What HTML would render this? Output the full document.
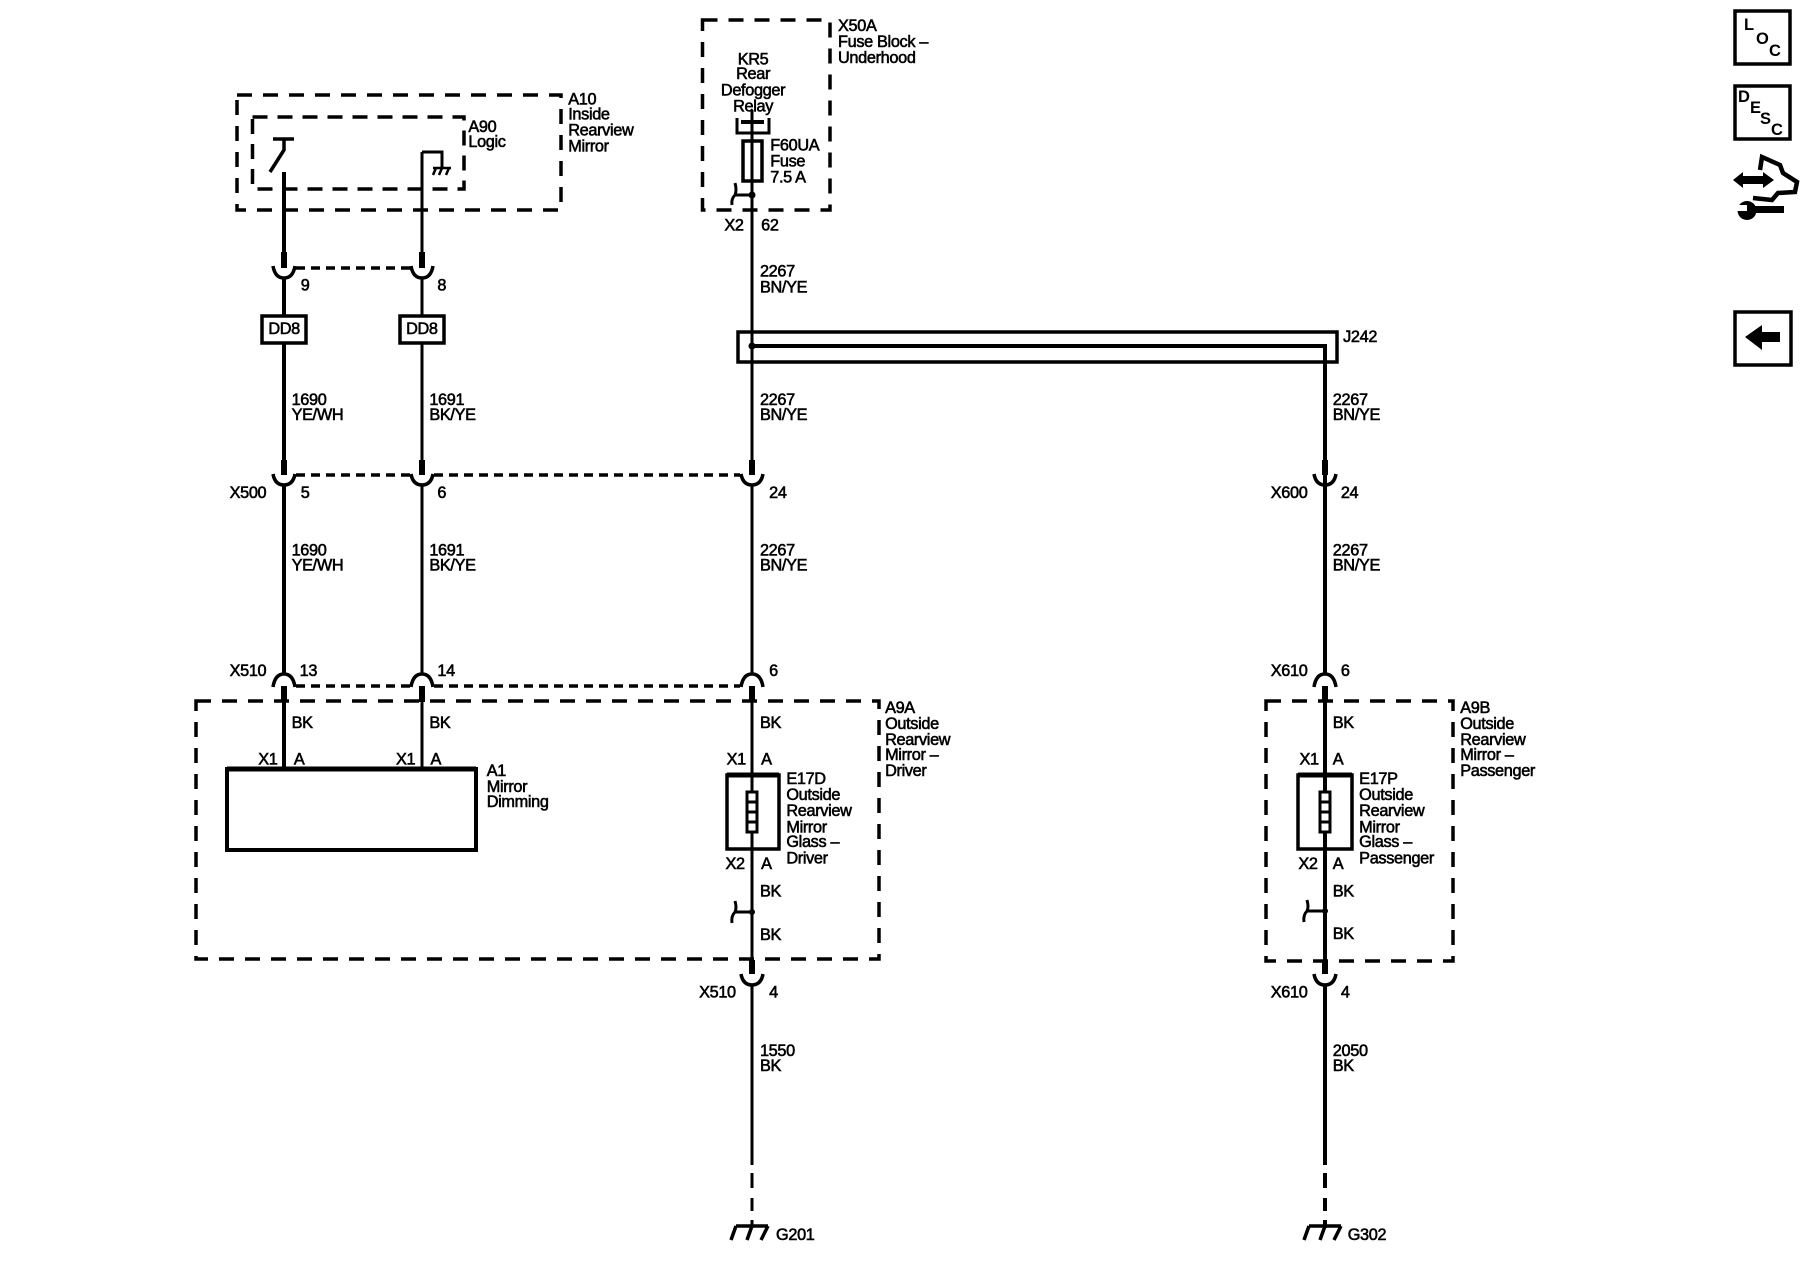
<!DOCTYPE html>
<html><head><meta charset="utf-8"><style>
html,body{margin:0;padding:0;background:#fff}
svg{display:block}
.t text{font-family:"Liberation Sans",sans-serif;font-size:14.2px;fill:#000;stroke:#000;stroke-width:.5px;letter-spacing:-.3px}
.w{stroke:#000;fill:none}
</style></head><body>
<svg width="1800" height="1280" viewBox="0 0 1800 1280" xmlns="http://www.w3.org/2000/svg">
<rect width="1800" height="1280" fill="#fff"/>
<g class="w" stroke-width="3.5">
<!-- boxes -->
<rect x="237" y="95" width="324" height="115" stroke-dasharray="15 11"/>
<rect x="252.500" y="117" width="211.500" height="72" stroke-dasharray="15 10"/>
<rect x="702.500" y="20" width="127.500" height="190" stroke-dasharray="15 11"/>
<rect x="196" y="701" width="683" height="258" stroke-dasharray="15 11"/>
<rect x="1266" y="701" width="187" height="260" stroke-dasharray="15 11"/>
<!-- dashed connector links -->
<path d="M296 268H410" stroke-dasharray="9 6"/>
<path d="M296 475H410M434 475H740" stroke-dasharray="9 6"/>
<path d="M296 686H410M434 686H740" stroke-dasharray="9 6"/>
<!-- J242 -->
<rect x="738" y="332" width="599" height="30"/>
<path d="M752 346H1325V470" stroke-width="4"/>
<!-- A1, E17 -->
<rect x="227" y="769" width="249" height="81" stroke-width="4"/>
<path d="M227 769H476" stroke-width="5"/>
<rect x="727" y="775" width="52" height="74"/>
<path d="M727 775H779" stroke-width="5"/>
<rect x="1298" y="775" width="54" height="74"/>
<path d="M1298 775H1352" stroke-width="5"/>
<!-- DD8 -->
<rect x="262" y="316" width="44" height="27"/>
<rect x="400" y="316" width="44" height="27"/>
</g>
<!-- wires -->
<g class="w" stroke-width="4">
<path d="M284 172V252M284 278V316M284 343V460M284 485V673M284 686V768"/>
</g>
<g class="w" stroke-width="3">
<path d="M422 152V252M422 278V316M422 343V460M422 485V673M422 686V768"/>
<path d="M752 110V460M752 485V673M752 686V960M752 985V1165"/>
<path d="M752 1173V1188M752 1198V1211M752 1220V1228"/>
</g>
<g class="w" stroke-width="4">
<path d="M1325 470V673M1325 686V960M1325 985V1165"/>
<path d="M1325 1173V1188M1325 1198V1211M1325 1220V1228"/>
</g>
<!-- thick connector stubs -->
<g fill="#000">
<rect x="281" y="252" width="6" height="16"/><rect x="419" y="252" width="6" height="16"/>
<rect x="281" y="460" width="6" height="15"/><rect x="419" y="460" width="6" height="15"/><rect x="749" y="460" width="6" height="15"/><rect x="1322" y="460" width="6" height="15"/>
<rect x="281" y="686" width="6" height="16"/><rect x="419" y="686" width="6" height="16"/><rect x="749" y="686" width="6" height="16"/><rect x="1322" y="686" width="6" height="16"/>
<rect x="749" y="960" width="6" height="14"/><rect x="1322" y="960" width="6" height="14"/>
</g>
<!-- arcs -->
<g class="w" stroke-width="3.500">
<path d="M273 266Q275 278 284 278Q293 278 295 266M411 266Q413 278 422 278Q431 278 433 266"/>
<path d="M273 474Q275 485 284 485Q293 485 295 474M411 474Q413 485 422 485Q431 485 433 474M741 474Q743 485 752 485Q761 485 763 474M1314 474Q1316 485 1325 485Q1334 485 1336 474"/>
<path d="M273 687Q275 674 284 674Q293 674 295 687M411 687Q413 674 422 674Q431 674 433 687M741 687Q743 674 752 674Q761 674 763 687M1314 687Q1316 674 1325 674Q1334 674 1336 687"/>
<path d="M741 974Q743 985 752 985Q761 985 763 974M1314 974Q1316 985 1325 985Q1334 985 1336 974"/>
</g>
<!-- E17 heater -->
<g stroke="#000" stroke-width="3" fill="#fff">
<rect x="747" y="792" width="10" height="40"/><rect x="1320" y="792" width="10" height="40"/>
<path d="M747 802H757M747 812H757M747 822H757M1320 802H1330M1320 812H1330M1320 822H1330" fill="none"/>
</g>
<!-- ground taps -->
<g class="w" stroke-width="3">
<path d="M752 912H735M735 901Q737 908 735 912Q731 916 732 923"/>
<path d="M1325 911H1307M1307 900Q1309 907 1307 911Q1303 915 1304 922"/>
<path d="M752 195H735M735 183Q737 190 735 195Q731 199 732 205"/>
</g>
<circle cx="752" cy="912" r="3"/><circle cx="1325" cy="911" r="3"/><circle cx="752" cy="195" r="3.500"/><circle cx="752" cy="346" r="3.500"/>
<!-- KR5 relay and fuse -->
<g class="w" stroke-width="3">
<path d="M737 118V133H769V118"/>
<rect x="743" y="141" width="19" height="40" stroke-width="3.500"/>
</g>
<rect x="741" y="120" width="23" height="4"/>
<!-- A10 switch -->
<g class="w" stroke-width="3">
<path d="M273 139H294M284 139V150L270 172" stroke-width="3.500"/>
<path d="M422 152H442V167" stroke-width="3"/>
<path d="M433 168H451M436 168L433 175M442 168L439 175M449 168L446 175" stroke-width="2.500"/>
</g>
<!-- grounds -->
<g class="w" stroke-width="3.500">
<path d="M736 1226H768M736 1226L731 1240M752 1226L747 1240M768 1226L761 1240"/>
<path d="M1309 1226H1341M1309 1226L1304 1240M1325 1226L1320 1240M1341 1226L1334 1240"/>
</g>
<!-- labels -->
<g class="t" transform="scale(1.14796)">
<text x="495" y="91">A10</text><text x="495" y="104">Inside</text><text x="495" y="118">Rearview</text><text x="495" y="132">Mirror</text>
<text x="408" y="115">A90</text><text x="408" y="128">Logic</text>
<text x="730" y="27">X50A</text><text x="730" y="41">Fuse Block –</text><text x="730" y="55">Underhood</text>
<g text-anchor="middle"><text x="656" y="56">KR5</text><text x="656" y="69">Rear</text><text x="656" y="83">Defogger</text><text x="656" y="97">Relay</text>
<text x="247.500" y="291">DD8</text><text x="367.500" y="291">DD8</text></g>
<text x="671" y="131">F60UA</text><text x="671" y="145">Fuse</text><text x="671" y="159">7.5 A</text>
<text x="631" y="201">X2</text><text x="663" y="201">62</text>
<text x="662" y="241">2267</text><text x="662" y="255">BN/YE</text>
<text x="262" y="253">9</text><text x="381" y="253">8</text>
<text x="1170" y="298">J242</text>
<text x="254" y="353">1690</text><text x="254" y="366">YE/WH</text><text x="374" y="353">1691</text><text x="374" y="366">BK/YE</text>
<text x="662" y="353">2267</text><text x="662" y="366">BN/YE</text><text x="1161" y="353">2267</text><text x="1161" y="366">BN/YE</text>
<text x="200" y="434">X500</text><text x="262" y="434">5</text><text x="381" y="434">6</text><text x="670" y="434">24</text><text x="1107" y="434">X600</text><text x="1168" y="434">24</text>
<text x="254" y="484">1690</text><text x="254" y="497">YE/WH</text><text x="374" y="484">1691</text><text x="374" y="497">BK/YE</text>
<text x="662" y="484">2267</text><text x="662" y="497">BN/YE</text><text x="1161" y="484">2267</text><text x="1161" y="497">BN/YE</text>
<text x="200" y="589">X510</text><text x="261" y="589">13</text><text x="381" y="589">14</text><text x="670" y="589">6</text><text x="1107" y="589">X610</text><text x="1168" y="589">6</text>
<text x="254" y="634">BK</text><text x="374" y="634">BK</text><text x="662" y="634">BK</text><text x="1161" y="634">BK</text>
<text x="225" y="666">X1</text><text x="256" y="666">A</text><text x="345" y="666">X1</text><text x="375" y="666">A</text><text x="633" y="666">X1</text><text x="663" y="666">A</text><text x="1132" y="666">X1</text><text x="1161" y="666">A</text>
<text x="424" y="676">A1</text><text x="424" y="690">Mirror</text><text x="424" y="703">Dimming</text>
<text x="771" y="621">A9A</text><text x="771" y="635">Outside</text><text x="771" y="649">Rearview</text><text x="771" y="662">Mirror –</text><text x="771" y="676">Driver</text>
<text x="1272" y="621">A9B</text><text x="1272" y="635">Outside</text><text x="1272" y="649">Rearview</text><text x="1272" y="662">Mirror –</text><text x="1272" y="676">Passenger</text>
<text x="685" y="683">E17D</text><text x="685" y="697">Outside</text><text x="685" y="711">Rearview</text><text x="685" y="725">Mirror</text><text x="685" y="738">Glass –</text><text x="685" y="752">Driver</text>
<text x="1184" y="683">E17P</text><text x="1184" y="697">Outside</text><text x="1184" y="711">Rearview</text><text x="1184" y="725">Mirror</text><text x="1184" y="738">Glass –</text><text x="1184" y="752">Passenger</text>
<text x="632" y="757">X2</text><text x="663" y="757">A</text><text x="1131" y="757">X2</text><text x="1161" y="757">A</text>
<text x="662" y="781">BK</text><text x="662" y="819">BK</text><text x="1161" y="781">BK</text><text x="1161" y="818">BK</text>
<text x="609" y="869">X510</text><text x="670" y="869">4</text><text x="1107" y="869">X610</text><text x="1168" y="869">4</text>
<text x="662" y="920">1550</text><text x="662" y="933">BK</text><text x="1161" y="920">2050</text><text x="1161" y="933">BK</text>
<text x="676" y="1080">G201</text><text x="1174" y="1080">G302</text>
</g>
<!-- side icons -->
<g class="w" stroke-width="3.500">
<rect x="1735" y="11" width="55" height="53"/>
<rect x="1735" y="86" width="55" height="53"/>
<rect x="1735" y="312" width="56" height="53"/>
<path d="M1760 170L1762 157L1780 165L1783 173L1797 182L1795 192L1778 193L1772 200L1753 198" stroke-width="4.500"/>
</g>
<g font-family="'Liberation Sans',sans-serif" font-weight="bold" font-size="16.5" fill="#000">
<text x="1744" y="30">L</text><text x="1756" y="44">O</text><text x="1769" y="56">C</text>
<text x="1738" y="102">D</text><text x="1750" y="113">E</text><text x="1760" y="124">S</text><text x="1771" y="135">C</text>
</g>
<path d="M1745 337L1762 325V332H1780V342H1762V350Z"/>
<path d="M1733 180L1743 172V176H1763V172L1774 180L1763 188V184H1743V188Z"/>
<rect x="1750" y="206" width="34" height="7"/>
<circle cx="1747" cy="210.500" r="9.500"/>
<path d="M1736 205H1747V211H1736Z" fill="#fff"/>
</svg>
</body></html>
